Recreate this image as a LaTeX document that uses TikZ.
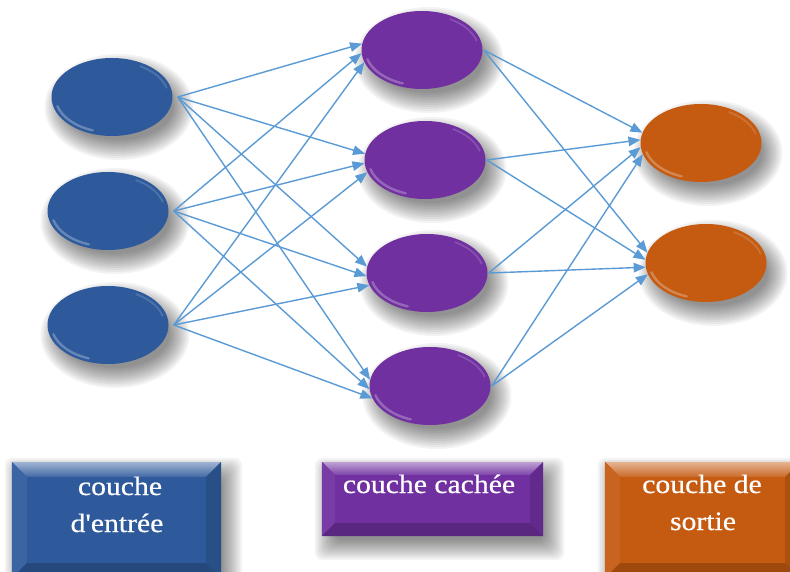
\documentclass[tikz,border=0pt]{standalone}
\usepackage{fontspec}
\setmainfont{Liberation Serif}
\newfontfamily\boxfont{Liberation Serif}[FakeStretch=1.12, FakeBold=0.6]
\usetikzlibrary{shapes.geometric,arrows.meta,calc}

\pgfdeclarelayer{paper}
\pgfdeclarelayer{shadow}
\pgfsetlayers{paper,shadow,main}

\definecolor{inblue}{HTML}{2E5A9C}
\definecolor{hidpurple}{HTML}{7030A0}
\definecolor{outorange}{HTML}{C55A11}
\definecolor{linkblue}{HTML}{5B9BD5}

\tikzset{
  neuron/.style={ellipse, minimum width=121pt, minimum height=78pt, inner sep=0pt,
    fill=#1},
  link/.style={draw=linkblue, line width=1.4pt,
    -{Triangle[length=12pt,width=9.5pt]}},
  layerbox/.style={rectangle, inner sep=0pt, fill=#1},
  boxtext/.style={text=white, inner sep=0pt, anchor=base,
    font=\boxfont\fontsize{26.5}{32}\selectfont}
}

% soft drop shadow under a neuron
\newcommand\ellshadow[1]{%
  \foreach \d in {14,12,...,-6}
    \fill[black, opacity=.048] ($(#1.center)+(7,-10)$)
      ellipse [x radius=60.5+\d, y radius=39+\d];
}
% soft drop shadow under a layer box
\newcommand\boxshadow[1]{%
  \foreach \d in {14,12,...,-6}
    \fill[black, opacity=.048, rounded corners=8pt]
      ($(#1.south west)+(7-\d,-10-\d)$) rectangle ($(#1.north east)+(7+\d,-10+\d)$);
}

% rim highlights of a neuron (glossy look)
\newcommand\gloss[2]{%
  \draw[#2!55!white, opacity=.6, line width=2.4pt, line cap=round]
    ($(#1.center)+(195:56.5 and 35.5)$) arc[start angle=195, end angle=250, x radius=56.5, y radius=35.5];
  \draw[#2!55!white, opacity=.35, line width=1.8pt, line cap=round]
    ($(#1.center)+(15:56.5 and 35.5)$) arc[start angle=15, end angle=60, x radius=56.5, y radius=35.5];
}

% bevelled edges of a layer box
\newcommand\bevelize[3]{%
  \shade[top color=#2!45!white, bottom color=#2!90!white]
    (#1.north west) -- (#1.north east) -- ([shift={(-#3,-#3)}]#1.north east)
    -- ([shift={(#3,-#3)}]#1.north west) -- cycle;
  \fill[#2!94!white]
    (#1.north west) -- ([shift={(#3,-#3)}]#1.north west)
    -- ([shift={(#3,#3)}]#1.south west) -- (#1.south west) -- cycle;
  \fill[#2!88!black]
    (#1.north east) -- ([shift={(-#3,-#3)}]#1.north east)
    -- ([shift={(-#3,#3)}]#1.south east) -- (#1.south east) -- cycle;
  \fill[#2!80!black]
    (#1.south west) -- ([shift={(#3,#3)}]#1.south west)
    -- ([shift={(-#3,#3)}]#1.south east) -- (#1.south east) -- cycle;
}

\begin{document}
\begin{tikzpicture}[x=1pt, y=1pt]
  \useasboundingbox (0,0) rectangle (790,-572);
  \begin{pgfonlayer}{paper}
    \fill[white] (0,0) rectangle (790,-572);
  \end{pgfonlayer}

  % input layer
  \node[neuron=inblue] (i1) at (112,-97) {};
  \node[neuron=inblue] (i2) at (108,-211) {};
  \node[neuron=inblue] (i3) at (108,-325) {};
  % hidden layer
  \node[neuron=hidpurple] (h1) at (422,-50) {};
  \node[neuron=hidpurple] (h2) at (425,-160) {};
  \node[neuron=hidpurple] (h3) at (427,-273) {};
  \node[neuron=hidpurple] (h4) at (430,-386) {};
  % output layer
  \node[neuron=outorange] (o1) at (701,-143) {};
  \node[neuron=outorange] (o2) at (706,-263) {};

  \foreach \n in {i1,i2,i3} {\gloss{\n}{inblue}}
  \foreach \n in {h1,h2,h3,h4} {\gloss{\n}{hidpurple}}
  \foreach \n in {o1,o2} {\gloss{\n}{outorange}}

  % connections: input -> hidden
  \foreach \i/\a in {i1/174,i2/183,i3/192}
    \foreach \h in {h1,h2,h3,h4}
      \draw[link] ([xshift=5pt]\i.east) -- (\h.\a);
  % connections: hidden -> output
  \foreach \h/\a in {h1/170,h2/177,h3/184,h4/191}
    \foreach \o in {o1,o2}
      \draw[link] ([xshift=1pt]\h.east) -- (\o.\a);

  % layer legends
  \node[layerbox=inblue, minimum width=209pt, minimum height=116pt] (b1) at (116.5,-520) {};
  \node[layerbox=hidpurple, minimum width=221pt, minimum height=74pt] (b2) at (432.5,-499) {};
  \node[layerbox=outorange, minimum width=195pt, minimum height=116pt] (b3) at (702.5,-520) {};
  \bevelize{b1}{inblue}{15}
  \bevelize{b2}{hidpurple}{13}
  \bevelize{b3}{outorange}{15}

  \begin{pgfonlayer}{shadow}
    \foreach \n in {i1,i2,i3,h1,h2,h3,h4,o1,o2} {\ellshadow{\n}}
    \foreach \n in {b1,b2,b3} {\boxshadow{\n}}
  \end{pgfonlayer}

  \node[boxtext] (t1a) at (120,-495) {couche};
  \node[boxtext] (t1b) at (117,-532) {d'entrée};
  \node[boxtext] (t2) at (429,-493) {couche cachée};
  \node[boxtext] (t3a) at (702,-493) {couche de};
  \node[boxtext] (t3b) at (703,-530) {sortie};
\end{tikzpicture}
\end{document}
